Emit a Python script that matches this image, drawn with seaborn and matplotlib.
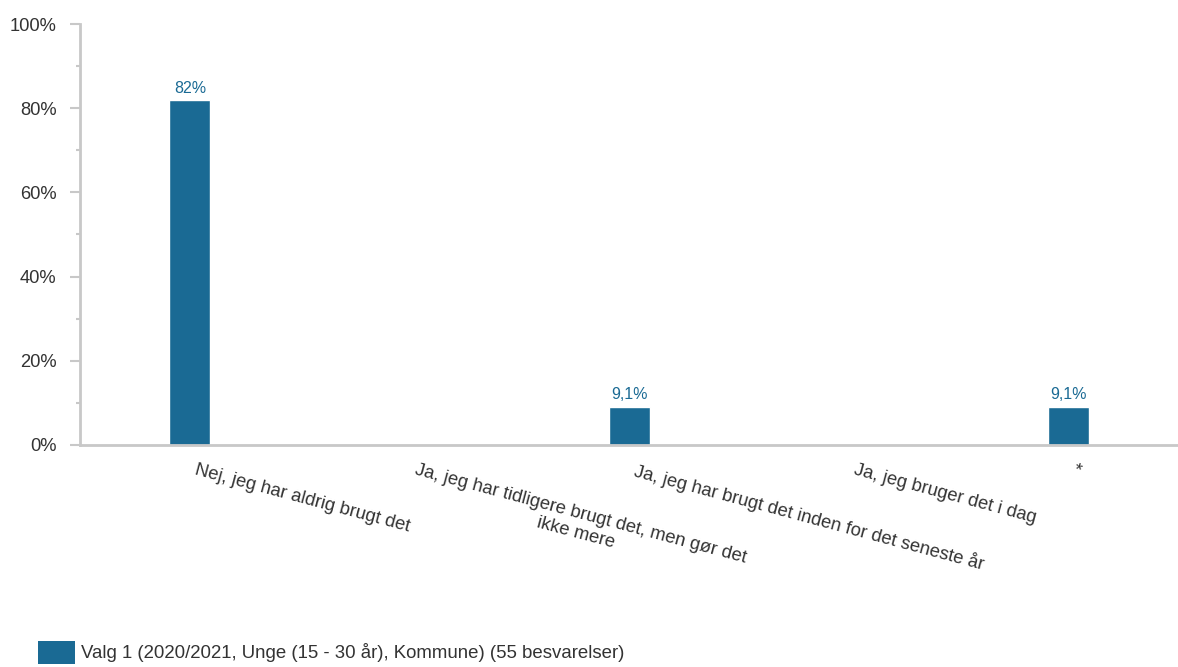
import matplotlib
matplotlib.use("Agg")
import matplotlib.pyplot as plt
from matplotlib.patches import Patch
from matplotlib.ticker import MultipleLocator
from matplotlib.transforms import ScaledTranslation
import seaborn as sns
import pandas as pd

categories = [
    "Nej, jeg har aldrig brugt det",
    "Ja, jeg har tidligere brugt det, men gør det\nikke mere",
    "Ja, jeg har brugt det inden for det seneste år",
    "Ja, jeg bruger det i dag",
    "*",
]
values = [82, 0, 9.1, 0, 9.1]
y_ticks = [0, 20, 40, 60, 80, 100]
y_tick_labels = ["0%", "20%", "40%", "60%", "80%", "100%"]
series_name = "Valg 1 (2020/2021, Unge (15 - 30 år), Kommune) (55 besvarelser)"

bar_color = "#1a6a94"
axis_gray = "#c8c8c8"
text_color = "#333333"

sns.set_style("white")
plt.rcParams["font.family"] = ["Liberation Sans", "DejaVu Sans"]

df = pd.DataFrame({"category": categories, "value": values})

fig = plt.figure(figsize=(11.78, 6.67), dpi=100)
ax = fig.add_axes([0.068, 0.333, 0.932, 0.631])

sns.barplot(data=df, x="category", y="value", color=bar_color, width=0.187,
            saturation=1, ax=ax)

# data labels, danish decimal comma, no label for empty bars
labels = [f"{v:g}%".replace(".", ",") if v > 0 else "" for v in values]
ax.bar_label(ax.containers[0], labels=labels, padding=3, fontsize=11.5,
             color=bar_color)

ax.set_xlim(-0.5, len(categories) - 0.5)
ax.set_ylim(0, 100)
ax.set_yticks(y_ticks)
ax.set_yticklabels(y_tick_labels)
ax.yaxis.set_minor_locator(MultipleLocator(10))
ax.set_xlabel("")
ax.set_ylabel("")

for side in ["top", "right"]:
    ax.spines[side].set_visible(False)
for side in ["left", "bottom"]:
    ax.spines[side].set_color(axis_gray)
    ax.spines[side].set_linewidth(2)

ax.tick_params(axis="y", which="major", length=7, width=1.5, color=axis_gray,
               labelsize=13.2, labelcolor=text_color, pad=10, left=True)
ax.tick_params(axis="y", which="minor", length=3, width=1.5, color=axis_gray,
               left=True)
ax.tick_params(axis="x", length=0, labelsize=13.2, labelcolor=text_color, pad=12)

# nudge rotated labels a bit right of the category centre
shift = ScaledTranslation(8 / 100, 0, fig.dpi_scale_trans)
for lab in ax.get_xticklabels():
    lab.set_rotation(-15)
    lab.set_rotation_mode("anchor")
    lab.set_ha("left")
    lab.set_va("top")
    lab.set_multialignment("center")
    lab.set_transform(lab.get_transform() + shift)

handle = Patch(facecolor=bar_color, edgecolor="none")
fig.legend([handle], [series_name], loc="lower left",
           bbox_to_anchor=(0.018, -0.02), frameon=False, fontsize=13.4,
           handlelength=2.0, handleheight=1.5, handletextpad=0.3,
           labelcolor=text_color)

fig.savefig("out.png", dpi=100)
